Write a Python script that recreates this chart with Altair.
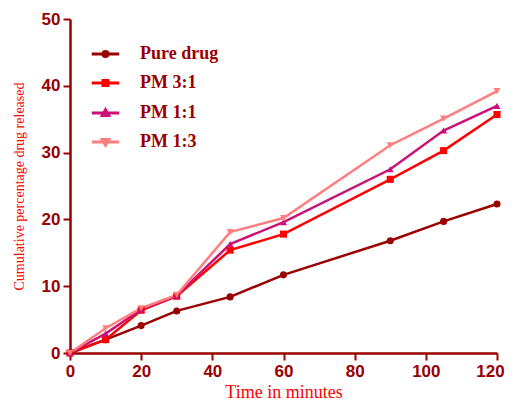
import altair as alt
import pandas as pd

time_min = [0, 10, 20, 30, 45, 60, 90, 105, 120]
pure_drug = [0, 2.0, 4.1, 6.3, 8.4, 11.7, 16.8, 19.7, 22.3]
pm_3_1 = [0, 2.0, 6.4, 8.5, 15.4, 17.8, 26.0, 30.3, 35.7]
pm_1_1 = [0, 2.9, 6.5, 8.6, 16.3, 19.6, 27.5, 33.3, 37.0]
pm_1_3 = [0, 3.7, 6.7, 8.7, 18.1, 20.2, 31.1, 35.1, 39.2]

series_names = ["Pure drug", "PM 3:1", "PM 1:1", "PM 1:3"]
series_values = [pure_drug, pm_3_1, pm_1_1, pm_1_3]
colors = ["#990000", "#FF0000", "#CC1177", "#FF7F7F"]
shapes = ["circle", "square", "triangle-up", "triangle-down"]
legend_paths = [
    "M-2.75,0L2.75,0M0.5,0A0.5,0.5,0,1,1,-0.5,0A0.5,0.5,0,1,1,0.5,0Z",
    "M-2.75,0L2.75,0M-0.5,-0.5L0.5,-0.5L0.5,0.5L-0.5,0.5Z",
    "M-2.75,0L2.75,0M0,-0.65L0.65,0.5L-0.65,0.5Z",
    "M-2.75,0L2.75,0M0,0.65L0.65,-0.5L-0.65,-0.5Z",
]

rows = []
for name, vals in zip(series_names, series_values):
    for t, v in zip(time_min, vals):
        rows.append({"time": t, "value": v, "series": name})
df = pd.DataFrame(rows)

axis_color = "#990000"
x_enc = alt.X("time:Q", scale=alt.Scale(domain=[0, 120], nice=False),
              axis=alt.Axis(values=[0, 20, 40, 60, 80, 100, 120], title="Time in minutes",
                            titlePadding=4, titleFontSize=18,
                            labelOffset={"condition": {"test": "datum.value >= 120", "value": -7},
                                         "value": 0}))
y_enc = alt.Y("value:Q", scale=alt.Scale(domain=[0, 50], nice=False),
              axis=alt.Axis(values=[0, 10, 20, 30, 40, 50], title="Cumulative percentage drug released",
                            titleFontSize=14, titlePadding=15))

color_scale = alt.Scale(domain=series_names, range=colors)

base = alt.Chart(df)

lines = base.mark_line(strokeWidth=2.5).encode(
    x=x_enc, y=y_enc,
    color=alt.Color("series:N", scale=color_scale, legend=None),
    detail="series:N",
)

points = base.mark_point(filled=True, opacity=1, size=50).encode(
    x=x_enc, y=y_enc,
    color=alt.Color("series:N", scale=color_scale, legend=None),
    shape=alt.Shape("series:N", scale=alt.Scale(domain=series_names, range=shapes), legend=None),
)

legend_layer = base.mark_point(filled=True, opacity=0).encode(
    x=x_enc, y=y_enc,
    fill=alt.Fill("series:N", scale=alt.Scale(domain=series_names, range=colors), title=None),
    stroke=alt.Stroke("series:N", scale=alt.Scale(domain=series_names, range=colors), title=None),
    shape=alt.Shape("series:N", scale=alt.Scale(domain=series_names, range=legend_paths), title=None),
)

chart = alt.layer(lines, points, legend_layer).resolve_scale(
    shape="independent", fill="independent", stroke="independent"
).properties(
    width=427, height=334,
    autosize=alt.AutoSizeParams(type="none"),
    padding={"left": 62, "top": 11, "right": 10, "bottom": 49},
).configure_view(stroke=None).configure_axis(
    grid=False,
    domainColor=axis_color, domainWidth=2.5,
    tickColor=axis_color, tickWidth=2, tickSize=7,
    labelColor=axis_color, labelFont="Liberation Sans", labelFontWeight="bold",
    labelFontSize=17, labelPadding=3, labelFlush=False,
    titleColor="#FF0000", titleFont="Liberation Serif", titleFontWeight="normal",
    titleFontSize=18,
).configure_legend(
    orient="none", legendX=26.5, legendY=26,
    symbolSize=100, symbolStrokeWidth=3, symbolOpacity=1,
    labelFont="Liberation Serif", labelFontWeight="bold", labelFontSize=18,
    labelColor=axis_color, labelOffset=25.5, rowPadding=11, padding=0,
)

chart.save("out.html", embed_options={"renderer": "svg", "actions": False})
